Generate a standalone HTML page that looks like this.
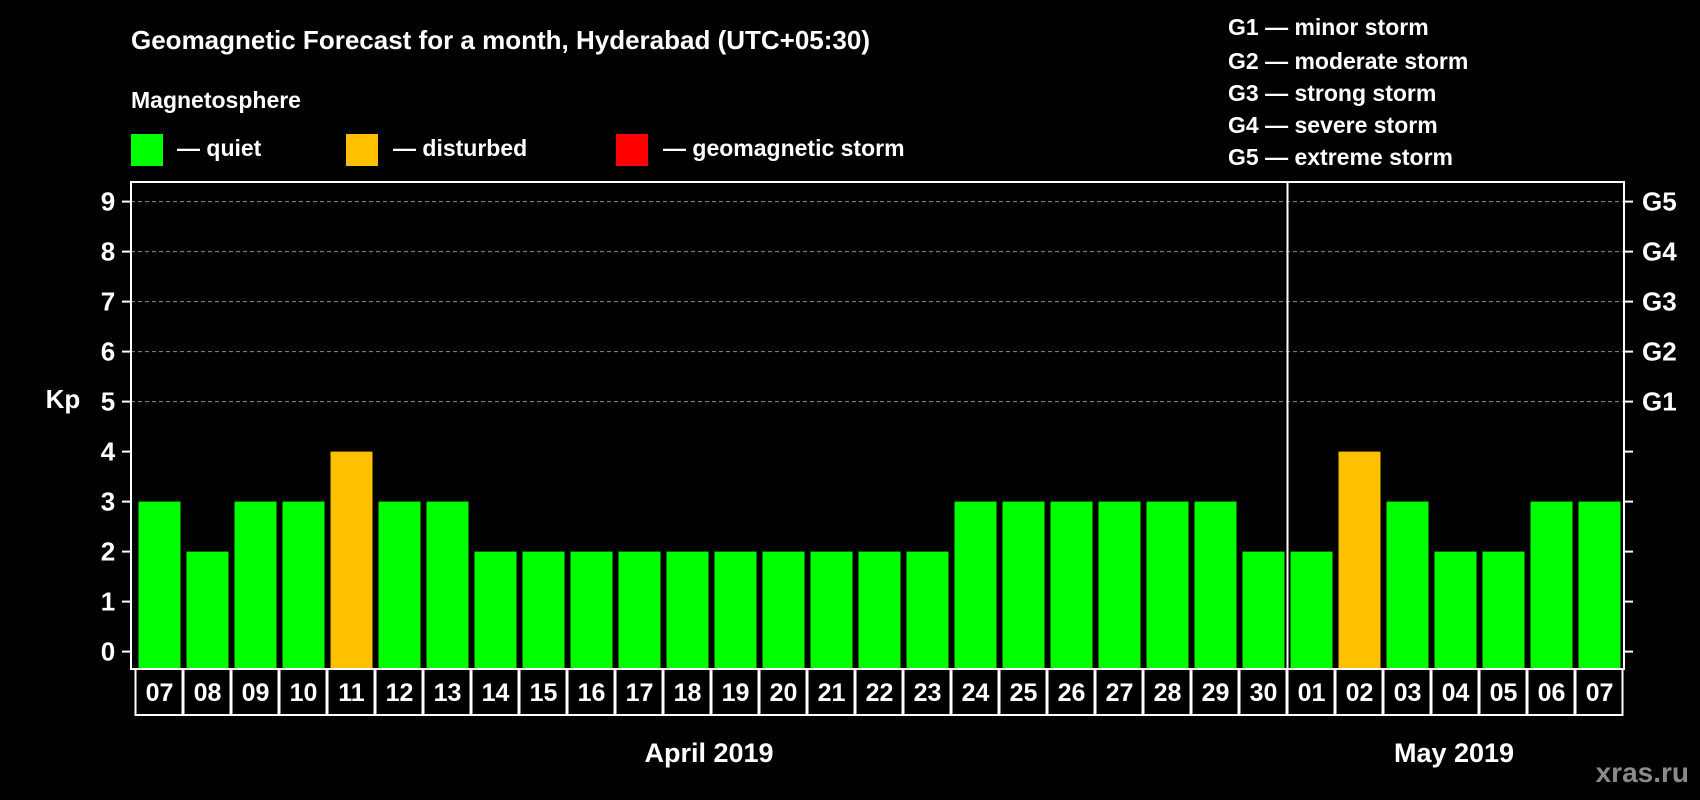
<!DOCTYPE html>
<html><head><meta charset="utf-8"><style>
html,body{margin:0;padding:0;background:#000;}
svg{display:block;font-family:"Liberation Sans",Arial,sans-serif;font-weight:bold;}
</style></head><body>
<svg id="chart" width="1700" height="800" viewBox="0 0 1700 800" xmlns="http://www.w3.org/2000/svg">
<rect width="1700" height="800" fill="#000"/>
<text x="131" y="49" fill="#fff" font-size="26">Geomagnetic Forecast for a month, Hyderabad (UTC+05:30)</text>
<text x="131" y="108" fill="#fff" font-size="23">Magnetosphere</text>
<g><rect x="131" y="134" width="32" height="32" fill="#00ff00"/><text x="177" y="156" fill="#fff" font-size="23">— quiet</text></g>
<g><rect x="346" y="134" width="32" height="32" fill="#ffc000"/><text x="393" y="156" fill="#fff" font-size="23">— disturbed</text></g>
<g><rect x="616" y="134" width="32" height="32" fill="#ff0000"/><text x="663" y="156" fill="#fff" font-size="23">— geomagnetic storm</text></g>
<g fill="#fff" font-size="23">
<text x="1228" y="35">G1 — minor storm</text>
<text x="1228" y="69">G2 — moderate storm</text>
<text x="1228" y="101">G3 — strong storm</text>
<text x="1228" y="133">G4 — severe storm</text>
<text x="1228" y="165">G5 — extreme storm</text>
</g>
<text x="63" y="408" fill="#fff" font-size="26" text-anchor="middle">Kp</text>
<text x="709" y="762" fill="#fff" font-size="27" text-anchor="middle">April 2019</text>
<text x="1454" y="762" fill="#fff" font-size="27" text-anchor="middle">May 2019</text>
<text x="1689" y="782" fill="#8a8a8a" font-size="28" text-anchor="end">xras.ru</text>
<g id="plot"></g>
</svg>
<script>
const days = ["07","08","09","10","11","12","13","14","15","16","17","18","19","20","21","22","23","24","25","26","27","28","29","30","01","02","03","04","05","06","07"];
const kpValues = [3,2,3,3,4,3,3,2,2,2,2,2,2,2,2,2,2,3,3,3,3,3,3,2,2,4,3,2,2,3,3];
const yTicks = [0,1,2,3,4,5,6,7,8,9];
const gLabels = ["G1","G2","G3","G4","G5"];
const monthBreakIndex = 24;

const NS = "http://www.w3.org/2000/svg";
const plot = document.getElementById("plot");
const X0 = 134.5, PITCH = 48, BW = 42;
const Y0 = 651.6, UNIT = 50.0;
const PL = 131, PR = 1624, PT = 182, PB = 669;
function xBand(i){ return X0 + i*PITCH; }
function yScale(v){ return Y0 - v*UNIT; }
function mk(tag, attrs){ const e = document.createElementNS(NS, tag); for (const k in attrs) e.setAttribute(k, attrs[k]); plot.appendChild(e); return e; }

// grid
yTicks.forEach(t=>{
  if (t>=5){
    const g = mk("line",{x1:PL,x2:PR,y1:yScale(t),y2:yScale(t),stroke:"#8c8c8c","stroke-width":1,"stroke-dasharray":"4,3"});
    
    
  }
});
// bars
kpValues.forEach((v,i)=>{
  const col = v>=5 ? "#ff0000" : (v>=4 ? "#ffc000" : "#00ff00");
  const r = mk("rect",{x:xBand(i)+4,y:yScale(v),width:BW,height:PB-yScale(v),fill:col});
  
  
});
// axes frame
const fr = mk("path",{d:`M${PL},${PB} L${PL},${PT} L${PR},${PT} L${PR},${PB} Z`,fill:"none",stroke:"#fff","stroke-width":2});


// month separator
const sep = mk("line",{x1:xBand(monthBreakIndex)+1,x2:xBand(monthBreakIndex)+1,y1:PT,y2:PB,stroke:"#fff","stroke-width":2});


// y ticks
yTicks.forEach(t=>{
  const y = yScale(t);
  const l = mk("line",{x1:PL-9,x2:PL,y1:y,y2:y,stroke:"#fff","stroke-width":2});
  
  
  const r = mk("line",{x1:PR,x2:PR+9,y1:y,y2:y,stroke:"#fff","stroke-width":2});
  
  
  const tx = mk("text",{x:108,y:y+9,fill:"#fff","font-size":26,"text-anchor":"middle"});
  tx.textContent = t;
  
  
});
gLabels.forEach((g,i)=>{
  const tx = mk("text",{x:1642,y:yScale(i+5)+9,fill:"#fff","font-size":26});
  tx.textContent = g;
  
  
});
// day label boxes
days.forEach((d,i)=>{
  const bx = mk("rect",{x:xBand(i)+1,y:PB,width:PITCH-1,height:46,fill:"#000",stroke:"#fff","stroke-width":2});
  
  
  const tx = mk("text",{x:xBand(i)+PITCH/2+1,y:PB+32,fill:"#fff","font-size":25,"text-anchor":"middle"});
  tx.textContent = d;
  
  
});
</script>
</body></html>
